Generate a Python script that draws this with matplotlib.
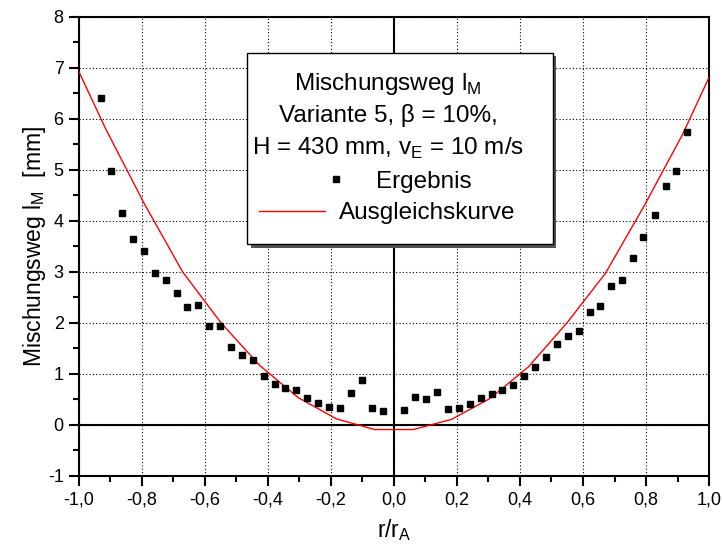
import matplotlib
matplotlib.use("Agg")
import matplotlib.pyplot as plt
import matplotlib.patches as patches
import matplotlib.patheffects as pe
from matplotlib import font_manager
from matplotlib.ticker import MultipleLocator, FuncFormatter

plt.rcParams['font.family'] = ['Liberation Sans', 'DejaVu Sans']
plt.rcParams['mathtext.fontset'] = 'custom'
plt.rcParams['mathtext.rm'] = 'Liberation Sans'

# measured mixing length (Ergebnis)
r_pts = [-0.931, -0.898, -0.863, -0.828, -0.793, -0.759, -0.724, -0.690, -0.656,
         -0.621, -0.587, -0.553, -0.517, -0.484, -0.448, -0.414, -0.379, -0.345,
         -0.310, -0.276, -0.241, -0.207, -0.172, -0.138, -0.103, -0.069, -0.034,
         0.033, 0.068, 0.103, 0.138, 0.172, 0.207, 0.241, 0.276, 0.310,
         0.344, 0.378, 0.413, 0.448, 0.483, 0.517, 0.552, 0.586, 0.621,
         0.655, 0.690, 0.723, 0.758, 0.792, 0.827, 0.862, 0.896, 0.931]
lm_pts = [6.41, 4.97, 4.15, 3.64, 3.40, 2.98, 2.84, 2.59, 2.32,
          2.36, 1.93, 1.93, 1.53, 1.38, 1.27, 0.95, 0.80, 0.73,
          0.69, 0.52, 0.44, 0.36, 0.34, 0.63, 0.89, 0.33, 0.27,
          0.29, 0.54, 0.50, 0.65, 0.31, 0.33, 0.42, 0.52, 0.61,
          0.69, 0.78, 0.95, 1.13, 1.33, 1.59, 1.74, 1.85, 2.21,
          2.34, 2.72, 2.85, 3.28, 3.68, 4.11, 4.68, 4.97, 5.75]

# fitted curve (Ausgleichskurve)
r_fit = [-1.0, -0.915, -0.793, -0.671, -0.549, -0.427, -0.305, -0.183, -0.061,
         0.061, 0.183, 0.305, 0.427, 0.549, 0.671, 0.793, 0.915, 1.0]
lm_fit = [6.92, 5.80, 4.34, 3.00, 2.00, 1.17, 0.54, 0.12, -0.09,
          -0.09, 0.11, 0.52, 1.14, 2.00, 2.97, 4.28, 5.68, 6.81]

fs = 17.5

# narrow font for the tick numbers if it is there
try:
    font_manager.findfont('Liberation Sans Narrow', fallback_to_default=False)
    tick_font, tick_size = 'Liberation Sans Narrow', 15
except ValueError:
    tick_font, tick_size = 'Liberation Sans', 13

fig = plt.figure(figsize=(7.22, 5.52), dpi=100)
ax = fig.add_axes([0.1094, 0.1377, 0.8726, 0.832])

ax.set_xlim(-1.0, 1.0)
ax.set_ylim(-1, 8)

# grid and zero lines
ax.grid(True, which='major', color='black', linestyle=(0, (1, 2)), linewidth=0.8)
ax.axhline(0, color='black', linewidth=1.5, zorder=2)
ax.axvline(0, color='black', linewidth=1.5, zorder=2)

pts, = ax.plot(r_pts, lm_pts, linestyle='none', marker='s', markersize=5,
               color='black', zorder=4)
fit, = ax.plot(r_fit, lm_fit, color='red', linewidth=1.0, zorder=3)

# ticks
ax.xaxis.set_major_locator(MultipleLocator(0.2))
ax.xaxis.set_minor_locator(MultipleLocator(0.1))
ax.yaxis.set_major_locator(MultipleLocator(1))
ax.yaxis.set_minor_locator(MultipleLocator(0.5))
ax.xaxis.set_major_formatter(FuncFormatter(lambda v, p: f"{round(v, 1) + 0.0:.1f}".replace('.', ',')))
ax.yaxis.set_major_formatter(FuncFormatter(lambda v, p: f"{int(round(v))}"))
ax.tick_params(which='both', direction='out', top=False, right=False, width=1.5)
ax.tick_params(which='major', length=7, pad=4)
ax.tick_params(which='minor', length=4)
for lbl in ax.get_xticklabels() + ax.get_yticklabels():
    lbl.set_family(tick_font)
    lbl.set_fontsize(tick_size)
for sp in ax.spines.values():
    sp.set_linewidth(1.5)

ax.set_xlabel(r"r/r$_\mathregular{A}$", fontsize=16.5, labelpad=6)
ax.set_ylabel(r"Mischungsweg l$_\mathregular{M}$  [mm]", fontsize=16.5, labelpad=0)

# legend box
box = patches.Rectangle((0.267, 0.505), 0.485, 0.416, transform=ax.transAxes,
                        facecolor='white', edgecolor='black', linewidth=1.0, zorder=5)
box.set_path_effects([pe.SimplePatchShadow(offset=(2.5, -2.5), shadow_rgbFace='#555555', alpha=1.0),
                      pe.Normal()])
ax.add_patch(box)

header = [r"Mischungsweg l$_\mathregular{M}$",
          r"Variante 5, β = 10%,",
          r"H = 430 mm, v$_\mathregular{E}$ = 10 m/s"]
header_y = [0.8404, 0.7714, 0.6989]
for txt, yy in zip(header, header_y):
    ax.text(0.4905, yy, txt, transform=ax.transAxes, ha='center', va='baseline',
            fontsize=fs, zorder=6)

leg1 = ax.legend([pts], ['Ergebnis'], loc='center', bbox_to_anchor=(0.5056, 0.6408),
                 bbox_transform=ax.transAxes, frameon=False, handlelength=1.0,
                 handletextpad=1.15, borderpad=0, borderaxespad=0, fontsize=fs,
                 numpoints=1)
leg1.set_zorder(7)
ax.add_artist(leg1)
leg2 = ax.legend([fit], ['Ausgleichskurve'], loc='center', bbox_to_anchor=(0.4897, 0.572),
                 bbox_transform=ax.transAxes, frameon=False, handlelength=2.7,
                 handletextpad=0.6, borderpad=0, borderaxespad=0, fontsize=fs)
leg2.set_zorder(7)

fig.savefig("out.png", dpi=100)
